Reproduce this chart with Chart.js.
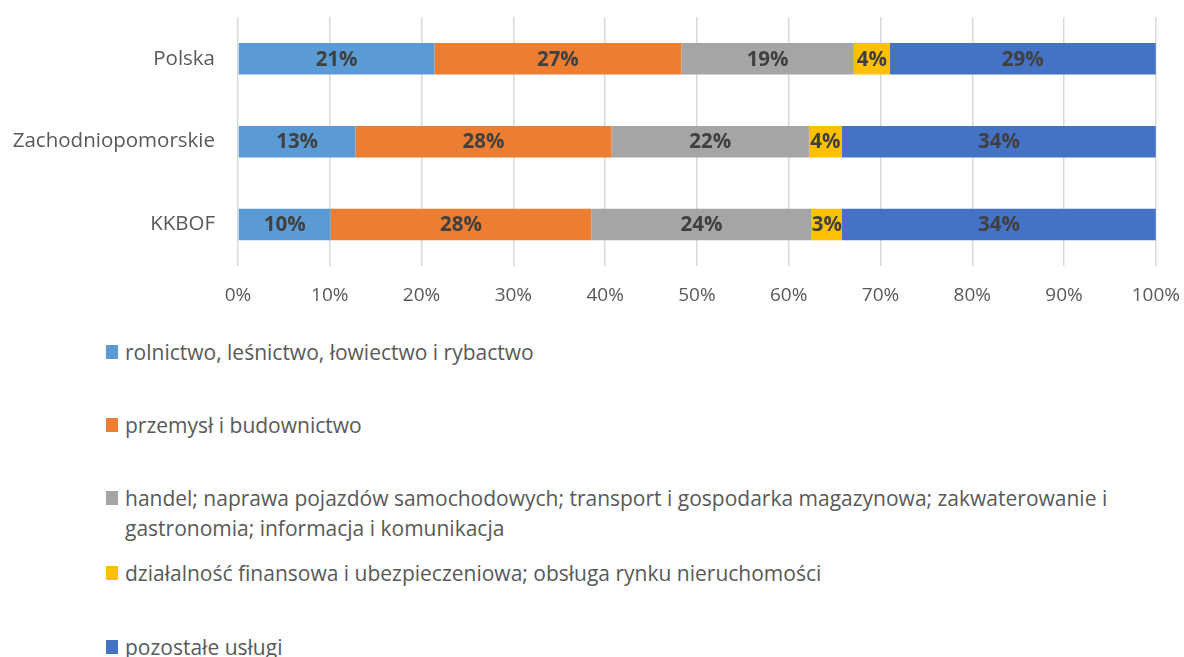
<!DOCTYPE html>
<html><head><meta charset="utf-8">
<script src="https://cdn.jsdelivr.net/npm/chart.js@4/dist/chart.umd.min.js"></script>
<style>
html,body{margin:0;padding:0;background:#fff;width:1184px;height:657px;overflow:hidden;font-family:"Open Sans",sans-serif;}
#wrap{position:absolute;left:0;top:-18px;width:1198px;height:338px;}
.leg{position:absolute;left:106px;font-size:21px;color:#595959;line-height:30px;width:1006px;}
.leg .sw{position:absolute;left:0;top:8px;width:12px;height:14px;}
.leg .tx{display:block;padding-left:19px;}
</style></head>
<body>
<div id="wrap"><canvas id="c"></canvas></div>
<div id="legend"></div>
<script>
const categories = ["Polska", "Zachodniopomorskie", "KKBOF"];
const seriesNames = [
  "rolnictwo, leśnictwo, łowiectwo i rybactwo",
  "przemysł i budownictwo",
  "handel; naprawa pojazdów samochodowych; transport i gospodarka magazynowa; zakwaterowanie i gastronomia; informacja i komunikacja",
  "działalność finansowa i ubezpieczeniowa; obsługa rynku nieruchomości",
  "pozostałe usługi"
];
const rolnictwo = [21.4, 12.8, 10.1];
const przemysl = [26.9, 27.9, 28.4];
const handel = [18.8, 21.5, 24.0];
const finanse = [3.9, 3.6, 3.3];
const pozostale = [29.0, 34.2, 34.2];
const tickLabels = ["0%","10%","20%","30%","40%","50%","60%","70%","80%","90%","100%"];
const colors = ["#5B9BD5", "#ED7D31", "#A5A5A5", "#FFC000", "#4472C4"];
const seriesValues = [rolnictwo, przemysl, handel, finanse, pozostale];

const FONT = "'Open Sans', sans-serif";

const labelPlugin = {
  id: 'barLabels',
  afterDatasetsDraw(chart) {
    const ctx = chart.ctx;
    ctx.save();
    ctx.font = "bold 20.5px " + FONT;
    ctx.fillStyle = "#404040";
    ctx.textAlign = "center";
    ctx.textBaseline = "middle";
    chart.data.datasets.forEach((ds, i) => {
      const meta = chart.getDatasetMeta(i);
      meta.data.forEach((bar, j) => {
        const p = bar.getProps(['x','base','y'], true);
        const cx = (p.x + p.base) / 2;
        ctx.fillText(Math.round(ds.data[j]) + "%", cx, p.y + 1);
      });
    });
    ctx.restore();
  }
};

new Chart(document.getElementById('c'), {
  type: 'bar',
  data: {
    labels: categories,
    datasets: seriesValues.map((v, i) => ({
      label: seriesNames[i],
      data: v,
      backgroundColor: colors[i],
      borderWidth: 0,
      categoryPercentage: 1,
      barPercentage: 0.38
    }))
  },
  options: {
    indexAxis: 'y',
    responsive: true,
    maintainAspectRatio: false,
    animation: false,
    layout: { padding: { top: 0, right: 15, left: 0, bottom: 0 } },
    plugins: { legend: { display: false }, tooltip: { enabled: false } },
    scales: {
      x: {
        stacked: true, min: 0, max: 100,
        ticks: { stepSize: 10, color: "#595959", font: { family: FONT, size: 19 }, padding: 18,
          callback: (v, i) => tickLabels[i] },
        grid: { color: "#D9D9D9", lineWidth: 1.5, drawTicks: false },
        border: { display: false },
        afterFit: s => { s.height = 54; }
      },
      y: {
        stacked: true,
        ticks: { color: "#595959", font: { family: FONT, size: 20.5 }, padding: 23 },
        grid: { display: false, drawTicks: false },
        border: { display: false },
        afterFit: s => { s.width = 238; }
      }
    }
  },
  plugins: [labelPlugin]
});

const legTops = [337, 410, 483, 558, 632];
const legEl = document.getElementById('legend');
seriesNames.forEach((n, i) => {
  const d = document.createElement('div');
  d.className = 'leg';
  d.style.top = legTops[i] + 'px';
  d.innerHTML = '<span class="sw" style="background:' + colors[i] + '"></span><span class="tx"></span>';
  d.querySelector('.tx').textContent = n;
  legEl.appendChild(d);
});
</script>
</body></html>
